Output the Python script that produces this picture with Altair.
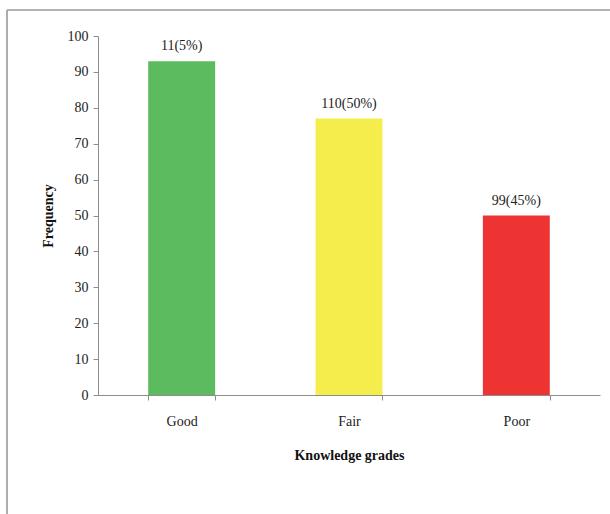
import altair as alt
import pandas as pd

categories = ["Good", "Fair", "Poor"]
frequency = [93, 77, 50]
labels = ["11(5%)", "110(50%)", "99(45%)"]
colors = ["#5CBB5E", "#F5ED4C", "#EE3333"]
y_ticks = [0, 10, 20, 30, 40, 50, 60, 70, 80, 90, 100]

df = pd.DataFrame({"grade": categories, "freq": frequency, "label": labels, "color": colors})

FONT = "Liberation Serif"

x = alt.X("grade:N", sort=categories,
          scale=alt.Scale(paddingInner=0.6, paddingOuter=0.3),
          axis=alt.Axis(title="Knowledge grades", labelAngle=0, tickBand="extent",
                        labelPadding=14, titlePadding=20))
y = alt.Y("freq:Q", scale=alt.Scale(domain=[0, 100]),
          axis=alt.Axis(title="Frequency", values=y_ticks,
                        grid=False, titlePadding=12, labelPadding=5))

bars = alt.Chart(df).mark_bar().encode(
    x=x, y=y, color=alt.Color("color:N", scale=None)
)
text = alt.Chart(df).mark_text(baseline="bottom", dy=-8, fontSize=14, font=FONT, color="#222").encode(
    x=x, y=y, text="label:N"
)

frame_top = alt.Chart(df).mark_rule(color="#A8A8A8", strokeWidth=1.2).encode(
    x=alt.value(-91), x2=alt.value(700), y=alt.value(-26)
)
frame_left = alt.Chart(df).mark_rule(color="#A8A8A8", strokeWidth=1.2).encode(
    x=alt.value(-91), y=alt.value(-26), y2=alt.value(600)
)

chart = alt.layer(frame_top, frame_left, bars, text).properties(
    width=502, height=359,
    autosize=alt.AutoSizeParams(type="none"),
    padding={"left": 98, "top": 36, "right": 10, "bottom": 119},
    background="white",
).configure_view(stroke=None).configure_axis(
    labelFont=FONT, titleFont=FONT, labelFontSize=14, titleFontSize=14,
    labelColor="#222", titleColor="#111", titleFontWeight="bold",
    domainColor="#8C8C8C", tickColor="#8C8C8C", tickSize=5,
)

chart.save("out.html", embed_options={"renderer": "svg", "actions": False})
